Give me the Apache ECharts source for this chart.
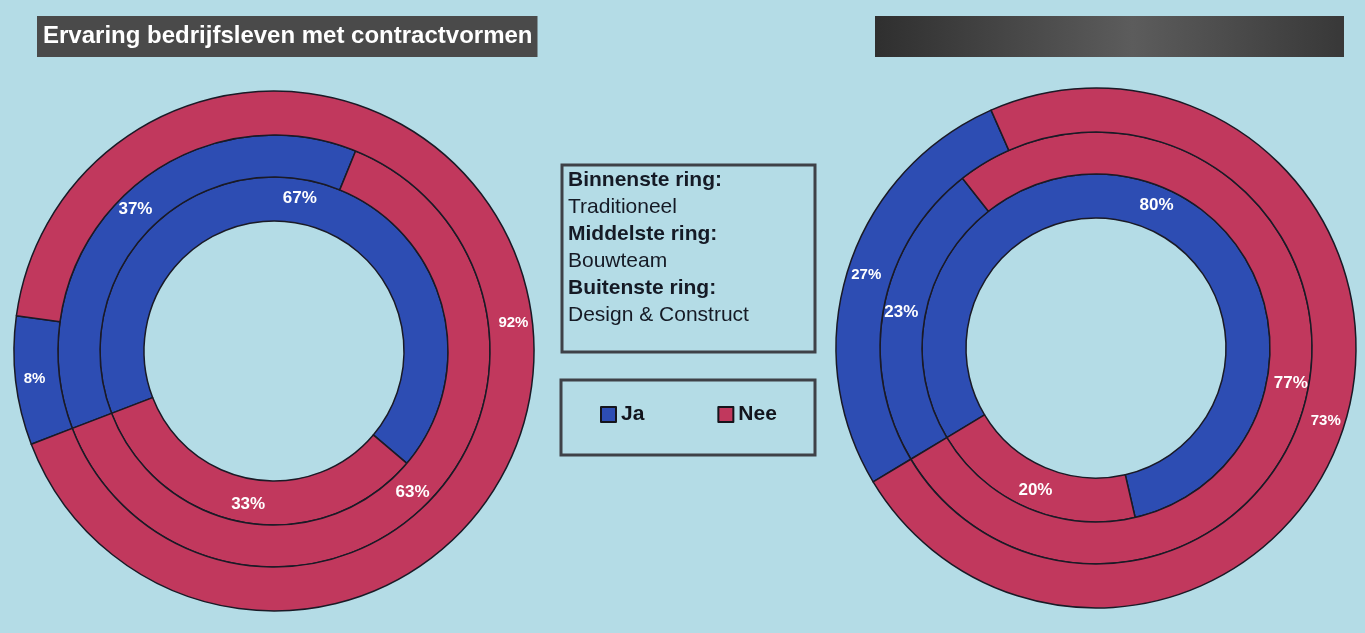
<!DOCTYPE html>
<html>
<head>
<meta charset="utf-8">
<script src="https://cdn.jsdelivr.net/npm/echarts@6/dist/echarts.min.js"></script>
<style>
  html, body { margin: 0; padding: 0; background: #b4dce6; }
  #ringen { width: 1365px; height: 633px; }
</style>
</head>
<body>
<div id="ringen"></div>
<script>
// ringen van binnen naar buiten
const ringen = ['Traditioneel', 'Bouwteam', 'Design & Construct']
const antwoorden = ['Ja', 'Nee']
const jaLinks = [67, 37, 8]
const neeLinks = [33, 63, 92]
const jaRechts = [80, 23, 27]
const neeRechts = [20, 77, 73]

const kleuren = { Ja: '#2d4db3', Nee: '#c1385d' }
const straal = [[130, 174], [174, 216], [216, 260]]
const labelGrootte = [17, 17, 15]
const font = '"Liberation Sans", Arial, sans-serif'

function maakRing (center, startAngle, ja, nee, i) {
  return {
    type: 'pie',
    name: ringen[i],
    center: center,
    radius: straal[i],
    startAngle: startAngle,
    clockwise: true,
    silent: true,
    avoidLabelOverlap: false,
    itemStyle: { borderColor: '#1a1a26', borderWidth: 1.5 },
    label: {
      show: true,
      position: 'inside',
      formatter: '{c}%',
      color: '#fff',
      fontSize: labelGrootte[i],
      fontWeight: 'bold',
      fontFamily: font
    },
    labelLine: { show: false },
    data: [
      { name: antwoorden[0], value: ja[i], itemStyle: { color: kleuren.Ja } },
      { name: antwoorden[1], value: nee[i], itemStyle: { color: kleuren.Nee } }
    ]
  }
}

const series = []
ringen.forEach((r, i) => {
  series.push(maakRing([274, 351], 201, jaLinks, neeLinks, i))
  series.push(maakRing([1096, 348], 211, jaRechts, neeRechts, i))
})

const chart = echarts.init(document.getElementById('ringen'))
chart.setOption({
  animation: false,
  backgroundColor: '#b4dce6',
  title: {
    text: 'Ervaring bedrijfsleven met contractvormen',
    left: 37,
    top: 16,
    padding: [8, 5, 8, 6],
    backgroundColor: '#4a4a4a',
    textStyle: {
      color: '#fff',
      fontSize: 24,
      lineHeight: 25,
      fontWeight: 'bold',
      fontFamily: font
    }
  },
  legend: {
    data: antwoorden,
    left: 600,
    top: 404,
    padding: 0,
    icon: 'rect',
    itemWidth: 15,
    itemHeight: 15,
    itemGap: 73,
    selectedMode: false,
    itemStyle: { borderColor: '#15151c', borderWidth: 2 },
    textStyle: { color: '#12141c', fontSize: 21, fontWeight: 'bold', fontFamily: font }
  },
  graphic: [
    {
      type: 'rect',
      shape: { x: 875, y: 16, width: 469, height: 41 },
      style: {
        fill: new echarts.graphic.LinearGradient(0, 0, 1, 0, [
          { offset: 0, color: '#2f2f2f' },
          { offset: 0.55, color: '#5c5c5c' },
          { offset: 1, color: '#383838' }
        ])
      }
    },
    {
      type: 'rect',
      shape: { x: 562, y: 165, width: 253, height: 187 },
      style: { fill: 'none', stroke: '#3e4147', lineWidth: 3 }
    },
    {
      type: 'text',
      left: 568,
      top: 170,
      style: {
        text: [
          '{b|Binnenste ring:}', '{n|' + ringen[0] + '}',
          '{b|Middelste ring:}', '{n|' + ringen[1] + '}',
          '{b|Buitenste ring:}', '{n|' + ringen[2] + '}'
        ].join('\n'),
        rich: {
          b: { fontSize: 21, fontWeight: 'bold', lineHeight: 27, fill: '#151a25', fontFamily: font },
          n: { fontSize: 21, lineHeight: 27, fill: '#151a25', fontFamily: font }
        }
      }
    },
    {
      type: 'rect',
      shape: { x: 561, y: 380, width: 254, height: 75 },
      style: { fill: 'none', stroke: '#3e4147', lineWidth: 3 }
    }
  ],
  series: series
})
</script>
</body>
</html>
